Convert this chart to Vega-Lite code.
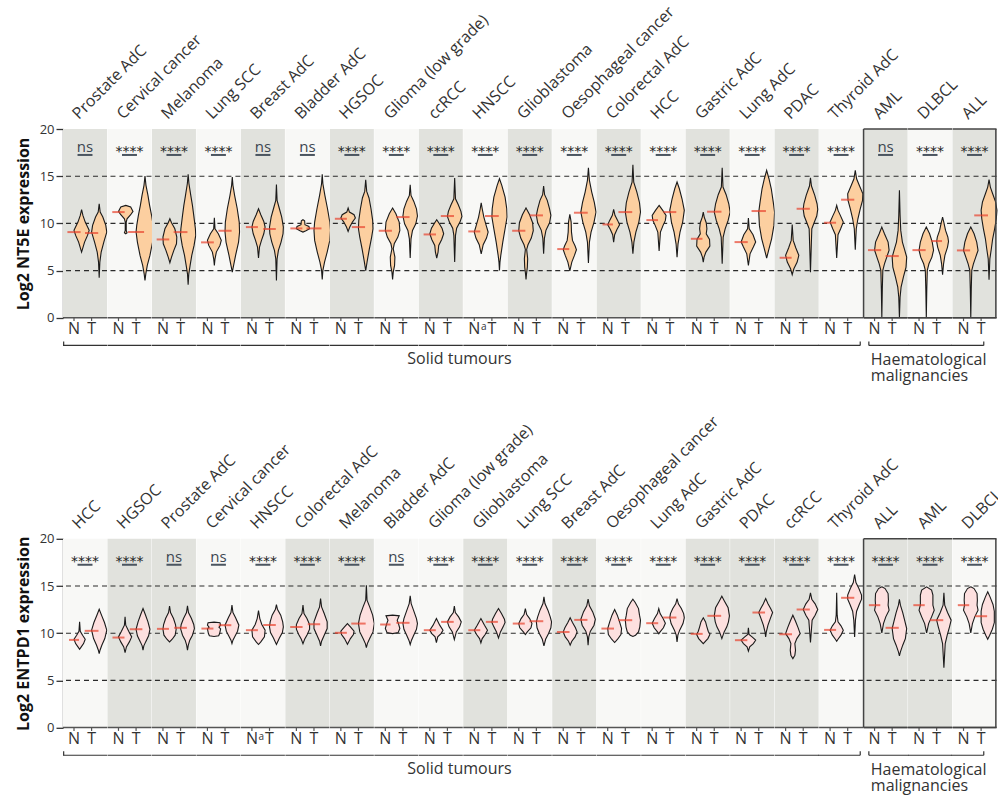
{
"$schema": "https://vega.github.io/schema/vega-lite/v6.json",
"background": "white",
"padding": {"left": 15, "top": 3, "right": 0, "bottom": 10},
"config": {"view": {"stroke": null}, "font": "Open Sans",
 "axisY": {"grid": false, "domainColor": "#333333", "domainWidth": 1.3, "tickColor": "#333333", "tickWidth": 1.3, "tickSize": 7, "labelFont": "Open Sans", "labelFontSize": 13, "labelColor": "#333333", "labelPadding": 2, "titleFont": "Open Sans", "titleFontSize": 16, "titleFontWeight": "bold", "titleColor": "#111111", "titlePadding": 8, "tickCount": 5}},
"spacing": 409.8,
"bounds": "flush",
"datasets": {
"nt5e": [
{"g":"Prostate AdC","s":"N","sig":"ns","m":9.08,"mw":0.66,"y":[11.45,10.85,10.14,9.26,8.73,8.02,6.96],"w":[0,0.12,0.33,0.69,0.54,0.27,0]},
{"g":"Prostate AdC","s":"T","m":8.98,"mw":0.66,"y":[12.08,11.2,10.67,9.79,9.08,8.02,6.96,5.9,4.24],"w":[0,0.09,0.33,0.6,0.69,0.42,0.18,0.06,0]},
{"g":"Cervical cancer","s":"N","sig":"****","m":11.2,"mw":0.62,"y":[11.91,11.73,11.27,10.92,10.49,10.14,9.26,9.01,8.9],"w":[0,0.45,0.66,0.45,0.12,0.045,0.045,0.12,0]},
{"g":"Cervical cancer","s":"T","m":9.08,"mw":0.8,"y":[15.02,14.03,12.97,11.91,10.85,9.79,9.08,8.02,6.61,5.55,4.66,3.96],"w":[0,0.09,0.27,0.42,0.6,0.75,0.81,0.69,0.45,0.21,0.075,0]},
{"g":"Melanoma","s":"N","sig":"****","m":8.3,"mw":0.63,"y":[10.49,10.07,9.43,8.55,7.84,7.14,6.43,5.83],"w":[0,0.15,0.45,0.63,0.6,0.36,0.15,0]},
{"g":"Melanoma","s":"T","m":9.08,"mw":0.69,"y":[15.19,14.2,12.97,11.91,10.85,9.43,8.73,7.67,6.61,5.55,4.66,3.5],"w":[0,0.075,0.24,0.39,0.51,0.66,0.69,0.54,0.33,0.18,0.06,0]},
{"g":"Lung SCC","s":"N","sig":"****","m":7.99,"mw":0.64,"y":[10.6,9.43,8.9,8.2,7.67,6.96,6.25,5.55],"w":[0,0.06,0.36,0.63,0.51,0.18,0.06,0]},
{"g":"Lung SCC","s":"T","m":9.22,"mw":0.66,"y":[14.91,14.03,12.97,11.55,10.14,9.08,8.02,6.61,5.55,4.84],"w":[0,0.06,0.21,0.45,0.63,0.66,0.57,0.3,0.12,0]},
{"g":"Breast AdC","s":"N","sig":"ns","m":9.61,"mw":0.6,"y":[11.55,10.92,10.21,9.61,8.9,8.2,7.49,6.33],"w":[0,0.21,0.48,0.6,0.48,0.27,0.09,0]},
{"g":"Breast AdC","s":"T","m":9.4,"mw":0.63,"y":[14.13,12.44,11.55,10.67,9.61,8.9,8.02,7.14,6.25,3.96],"w":[0,0.06,0.27,0.48,0.63,0.6,0.42,0.18,0.06,0]},
{"g":"Bladder AdC","s":"N","sig":"ns","m":9.47,"mw":0.6,"y":[10.39,10.28,9.86,9.68,9.43,9.22,9.08],"w":[0,0.15,0.18,0.54,0.6,0.27,0]},
{"g":"Bladder AdC","s":"T","m":9.47,"mw":0.75,"y":[15.19,14.2,12.97,11.55,10.14,9.26,8.2,6.96,5.9,5.02,4.06],"w":[0,0.06,0.24,0.48,0.69,0.75,0.69,0.45,0.21,0.06,0]},
{"g":"HGSOC","s":"N","sig":"****","m":10.49,"mw":0.6,"y":[11.63,11.2,10.92,10.57,10.14,9.61,9.15],"w":[0,0.12,0.54,0.66,0.39,0.15,0]},
{"g":"HGSOC","s":"T","m":9.61,"mw":0.66,"y":[14.63,13.39,12.69,11.55,10.32,9.43,8.55,7.31,5.9,4.98],"w":[0,0.09,0.3,0.48,0.63,0.66,0.54,0.33,0.12,0]},
{"g":"Glioma (low grade)","s":"N","sig":"****","m":9.22,"mw":0.66,"y":[11.63,11.02,10.14,9.26,8.55,7.84,7.31,6.43,5.55,4.84,4.06],"w":[0,0.3,0.6,0.66,0.48,0.15,0.06,0.21,0.18,0.06,0]},
{"g":"Glioma (low grade)","s":"T","m":10.67,"mw":0.66,"y":[14.1,12.97,12.33,11.55,10.78,9.96,9.26,8.37,6.33],"w":[0,0.075,0.33,0.57,0.66,0.51,0.21,0.075,0]},
{"g":"ccRCC","s":"N","sig":"****","m":8.83,"mw":0.62,"y":[10.39,10.07,9.5,8.9,8.3,7.67,6.96,6.33],"w":[0,0.18,0.48,0.63,0.45,0.18,0.12,0]},
{"g":"ccRCC","s":"T","m":10.78,"mw":0.66,"y":[14.81,12.61,11.98,11.27,10.74,10.14,9.5,8.73,5.9],"w":[0,0.075,0.33,0.57,0.66,0.48,0.18,0.075,0]},
{"g":"HNSCC","s":"N","sig":"****","m":9.15,"mw":0.6,"y":[12.19,11.55,10.67,9.79,9.08,8.45,7.74,6.78],"w":[0,0.09,0.24,0.45,0.63,0.48,0.18,0]},
{"g":"HNSCC","s":"T","m":10.78,"mw":0.69,"y":[14.73,14.03,12.79,11.55,10.67,9.43,8.02,6.61,5.9,5.02],"w":[0,0.21,0.51,0.66,0.69,0.51,0.3,0.12,0.045,0]},
{"g":"Glioblastoma","s":"N","sig":"****","m":9.22,"mw":0.66,"y":[11.63,10.92,10.07,9.22,8.45,7.74,7.24,6.25,5.37,4.66,4.06],"w":[0,0.33,0.6,0.66,0.48,0.18,0.06,0.15,0.12,0.045,0]},
{"g":"Glioblastoma","s":"T","m":10.85,"mw":0.66,"y":[13.96,13.04,12.44,11.55,10.85,10.07,9.26,8.45,6.78],"w":[0,0.09,0.33,0.54,0.66,0.54,0.21,0.075,0]},
{"g":"Oesophageal cancer","s":"N","sig":"****","m":7.28,"mw":0.6,"y":[10.95,10.14,9.08,8.2,7.6,7.21,6.61,5.9,4.98],"w":[0,0.12,0.15,0.24,0.48,0.6,0.42,0.18,0]},
{"g":"Oesophageal cancer","s":"T","m":11.13,"mw":0.69,"y":[15.9,14.56,13.32,12.19,11.2,10.14,9.08,8.02,5.8],"w":[0,0.09,0.3,0.54,0.69,0.51,0.24,0.09,0]},
{"g":"Colorectal AdC","s":"N","sig":"****","m":9.89,"mw":0.52,"y":[11.48,10.85,10.32,9.86,9.36,8.8,8.02],"w":[0,0.12,0.36,0.54,0.3,0.09,0]},
{"g":"Colorectal AdC","s":"T","m":11.2,"mw":0.69,"y":[16.22,14.38,13.32,12.19,11.2,10.14,9.08,8.02,6.78],"w":[0,0.075,0.36,0.6,0.69,0.54,0.27,0.09,0]},
{"g":"HCC","s":"N","sig":"****","m":10.35,"mw":0.58,"y":[11.91,11.38,10.85,10.32,9.79,9.08,7.07],"w":[0,0.33,0.63,0.57,0.36,0.12,0]},
{"g":"HCC","s":"T","m":11.2,"mw":0.65,"y":[14.38,13.67,12.61,11.38,10.14,9.08,7.84,6.43],"w":[0,0.21,0.45,0.66,0.51,0.27,0.09,0]},
{"g":"Gastric AdC","s":"N","sig":"****","m":8.37,"mw":0.58,"y":[11.2,10.67,10.07,9.43,8.9,8.3,7.6,6.96,6.43,5.9],"w":[0,0.09,0.27,0.33,0.27,0.57,0.6,0.24,0.075,0]},
{"g":"Gastric AdC","s":"T","m":11.24,"mw":0.72,"y":[15.9,13.85,13.04,12.08,11.2,10.32,9.43,8.55,5.72],"w":[0,0.075,0.36,0.6,0.72,0.54,0.27,0.09,0]},
{"g":"Lung AdC","s":"N","sig":"****","m":8.02,"mw":0.66,"y":[10.57,9.43,8.8,8.02,7.49,6.78,5.55],"w":[0,0.075,0.42,0.66,0.45,0.15,0]},
{"g":"Lung AdC","s":"T","m":11.31,"mw":0.72,"y":[15.62,14.73,13.67,12.26,11.2,9.79,8.37,7.31,6.33],"w":[0,0.21,0.42,0.6,0.72,0.66,0.45,0.21,0]},
{"g":"PDAC","s":"N","sig":"****","m":6.36,"mw":0.6,"y":[9.89,8.2,7.39,6.61,5.9,5.19,4.56],"w":[0,0.09,0.33,0.6,0.45,0.15,0]},
{"g":"PDAC","s":"T","m":11.55,"mw":0.66,"y":[14.84,13.96,12.97,12.08,11.48,10.78,10.07,9.43,4.84],"w":[0,0.09,0.39,0.6,0.66,0.57,0.33,0.12,0]},
{"g":"Thyroid AdC","s":"N","sig":"****","m":10.07,"mw":0.6,"y":[11.91,11.38,10.85,10.14,9.43,8.8,6.33],"w":[0,0.12,0.33,0.6,0.36,0.12,0]},
{"g":"Thyroid AdC","s":"T","m":12.51,"mw":0.66,"y":[15.62,14.73,13.96,13.14,12.44,11.55,10.49,9.43,7.21],"w":[0,0.12,0.39,0.69,0.66,0.45,0.24,0.09,0]},
{"g":"AML","s":"N","sig":"ns","m":7.17,"mw":0.66,"y":[9.61,8.9,8.02,7.17,6.43,5.72,5.02,3.07,0],"w":[0,0.24,0.57,0.66,0.45,0.24,0.09,0.045,0]},
{"g":"AML","s":"T","m":6.54,"mw":0.66,"y":[13.5,10.85,9.26,8.02,7.31,6.43,5.37,4.31,3.25,2.19,0],"w":[0,0.06,0.12,0.27,0.45,0.66,0.6,0.36,0.15,0.06,0]},
{"g":"DLBCL","s":"N","sig":"****","m":7.17,"mw":0.66,"y":[9.61,8.9,8.02,7.17,6.43,5.72,5.02,3.07,0],"w":[0,0.3,0.54,0.66,0.51,0.24,0.09,0.045,0]},
{"g":"DLBCL","s":"T","m":8.13,"mw":0.54,"y":[10.67,10.07,9.26,8.55,8.09,7.49,6.61,5.72,4.56],"w":[0,0.12,0.27,0.48,0.54,0.45,0.21,0.09,0]},
{"g":"ALL","s":"N","sig":"****","m":7.14,"mw":0.66,"y":[9.61,8.9,8.02,7.14,6.43,5.72,5.02,3.07,0],"w":[0,0.3,0.54,0.66,0.45,0.24,0.09,0.045,0]},
{"g":"ALL","s":"T","m":10.85,"mw":0.69,"y":[14.63,13.85,13.14,12.26,11.38,10.49,9.43,8.37,7.31,6.25,4.03],"w":[0,0.12,0.33,0.6,0.72,0.66,0.51,0.33,0.21,0.075,0]}
],
"entpd1": [
{"g":"HCC","s":"N","sig":"****","m":9.29,"mw":0.5,"y":[11.2,10.21,9.79,9.36,8.9,8.55,8.3],"w":[0,0.06,0.27,0.51,0.36,0.15,0]},
{"g":"HCC","s":"T","m":10.25,"mw":0.69,"y":[12.54,11.91,11.13,10.32,9.43,8.73,8.2,7.84],"w":[0,0.21,0.48,0.69,0.51,0.24,0.075,0]},
{"g":"HGSOC","s":"N","sig":"****","m":9.54,"mw":0.6,"y":[11.73,10.85,10.21,9.61,9.08,8.55,7.95],"w":[0,0.06,0.33,0.6,0.39,0.12,0]},
{"g":"HGSOC","s":"T","m":10.42,"mw":0.63,"y":[12.61,11.98,11.2,10.42,9.72,9.08,8.66,8.2],"w":[0,0.21,0.45,0.63,0.51,0.24,0.075,0]},
{"g":"Prostate AdC","s":"N","sig":"ns","m":10.46,"mw":0.6,"y":[12.86,12.19,11.55,10.92,10.42,9.79,9.36,9.08],"w":[0,0.09,0.36,0.54,0.6,0.51,0.24,0]},
{"g":"Prostate AdC","s":"T","m":10.57,"mw":0.63,"y":[12.9,12.19,11.55,10.92,10.49,9.79,9.26,8.73,8.2],"w":[0,0.09,0.36,0.57,0.63,0.45,0.21,0.075,0]},
{"g":"Cervical cancer","s":"N","sig":"ns","m":10.49,"mw":0.6,"y":[11.17,11.1,10.85,10.64,10.46,9.96,9.72,9.65],"w":[0,0.54,0.6,0.45,0.6,0.51,0.42,0]},
{"g":"Cervical cancer","s":"T","m":10.85,"mw":0.63,"y":[12.97,12.19,11.63,10.85,10.21,9.61,9.26,8.9],"w":[0,0.09,0.33,0.63,0.51,0.24,0.09,0]},
{"g":"HNSCC","s":"N","sig":"****","m":10.32,"mw":0.6,"y":[12.4,11.55,10.92,10.32,9.61,9.08,8.8],"w":[0,0.12,0.3,0.6,0.54,0.21,0]},
{"g":"HNSCC","s":"T","m":10.88,"mw":0.63,"y":[13.04,12.54,11.91,11.2,10.67,10.07,9.5,8.8],"w":[0,0.09,0.39,0.57,0.63,0.54,0.27,0]},
{"g":"Colorectal AdC","s":"N","sig":"****","m":10.67,"mw":0.62,"y":[12.97,12.08,11.55,10.92,10.42,9.86,9.36,8.9],"w":[0,0.09,0.36,0.6,0.6,0.39,0.15,0]},
{"g":"Colorectal AdC","s":"T","m":10.95,"mw":0.62,"y":[13.67,12.79,12.08,11.2,10.49,9.79,9.15,8.66],"w":[0,0.09,0.33,0.6,0.6,0.33,0.09,0]},
{"g":"Melanoma","s":"N","sig":"****","m":10.04,"mw":0.6,"y":[11.02,10.67,10.21,9.86,9.43,8.83],"w":[0,0.27,0.6,0.54,0.27,0]},
{"g":"Melanoma","s":"T","m":11.02,"mw":0.72,"y":[15.09,13.5,12.79,11.91,11.02,10.14,9.43,8.9,8.48],"w":[0,0.06,0.3,0.57,0.72,0.6,0.3,0.09,0]},
{"g":"Bladder AdC","s":"N","sig":"ns","m":10.92,"mw":0.52,"y":[11.91,11.84,11.38,10.99,10.49,10.07,9.96],"w":[0,0.6,0.42,0.54,0.66,0.51,0]},
{"g":"Bladder AdC","s":"T","m":11.1,"mw":0.66,"y":[13.96,13.14,12.44,11.55,11.02,10.42,9.72,9.26,8.8],"w":[0,0.09,0.3,0.57,0.66,0.57,0.3,0.12,0]},
{"g":"Glioma (low grade)","s":"N","sig":"****","m":10.32,"mw":0.6,"y":[11.55,10.85,10.32,9.96,9.61,9.01],"w":[0,0.3,0.6,0.42,0.12,0]},
{"g":"Glioma (low grade)","s":"T","m":11.2,"mw":0.63,"y":[12.86,12.19,11.73,11.2,10.67,10.14,9.33],"w":[0,0.09,0.39,0.63,0.48,0.18,0]},
{"g":"Glioblastoma","s":"N","sig":"****","m":10.32,"mw":0.6,"y":[11.55,10.85,10.32,9.86,9.43,8.98],"w":[0,0.33,0.6,0.39,0.12,0]},
{"g":"Glioblastoma","s":"T","m":11.2,"mw":0.6,"y":[12.61,12.08,11.48,11.13,10.67,10.14,9.5],"w":[0,0.27,0.54,0.6,0.42,0.18,0]},
{"g":"Lung SCC","s":"N","sig":"****","m":11.02,"mw":0.6,"y":[12.61,11.98,11.55,11.02,10.57,10.14,9.86],"w":[0,0.12,0.39,0.6,0.51,0.18,0]},
{"g":"Lung SCC","s":"T","m":11.27,"mw":0.69,"y":[13.85,13.14,12.44,11.73,11.2,10.57,9.96,9.36,8.66],"w":[0,0.09,0.36,0.57,0.69,0.63,0.42,0.15,0]},
{"g":"Breast AdC","s":"N","sig":"****","m":10.14,"mw":0.63,"y":[11.63,11.13,10.57,10.14,9.61,9.15,8.73],"w":[0,0.21,0.48,0.63,0.45,0.15,0]},
{"g":"Breast AdC","s":"T","m":11.41,"mw":0.66,"y":[13.6,12.9,12.26,11.48,10.85,10.21,9.61,8.73],"w":[0,0.12,0.42,0.66,0.54,0.21,0.06,0]},
{"g":"Oesophageal cancer","s":"N","sig":"****","m":10.49,"mw":0.63,"y":[12.51,11.91,11.2,10.49,9.86,9.36,9.01],"w":[0,0.24,0.45,0.63,0.57,0.27,0]},
{"g":"Oesophageal cancer","s":"T","m":11.38,"mw":0.69,"y":[13.6,13.25,12.61,11.91,11.38,10.67,10.14,9.79,9.65],"w":[0,0.21,0.51,0.6,0.69,0.63,0.51,0.24,0]},
{"g":"Lung AdC","s":"N","sig":"****","m":11.06,"mw":0.6,"y":[12.61,12.08,11.55,11.06,10.57,10.14,9.93],"w":[0,0.12,0.39,0.6,0.42,0.12,0]},
{"g":"Lung AdC","s":"T","m":11.66,"mw":0.66,"y":[13.67,13.11,12.61,12.08,11.63,11.02,10.32,9.79,9.08],"w":[0,0.12,0.39,0.6,0.66,0.54,0.24,0.075,0]},
{"g":"Gastric AdC","s":"N","sig":"****","m":9.93,"mw":0.6,"y":[11.63,11.2,10.67,10.21,9.86,9.43,8.9],"w":[0,0.21,0.33,0.45,0.6,0.42,0]},
{"g":"Gastric AdC","s":"T","m":11.84,"mw":0.69,"y":[13.92,13.39,12.69,11.84,11.2,10.67,10.14,9.43],"w":[0,0.24,0.57,0.69,0.6,0.45,0.21,0]},
{"g":"PDAC","s":"N","sig":"****","m":9.26,"mw":0.62,"y":[10.57,9.86,9.58,9.26,8.9,8.55,8.09],"w":[0,0.06,0.36,0.66,0.45,0.12,0]},
{"g":"PDAC","s":"T","m":12.19,"mw":0.63,"y":[13.67,13.11,12.61,12.19,11.55,10.85,10.14,9.61],"w":[0,0.21,0.45,0.63,0.42,0.21,0.06,0]},
{"g":"ccRCC","s":"N","sig":"****","m":9.89,"mw":0.64,"y":[11.91,11.27,10.57,9.96,9.43,8.9,8.2,7.67,7.31],"w":[0,0.24,0.48,0.66,0.36,0.18,0.24,0.18,0]},
{"g":"ccRCC","s":"T","m":12.51,"mw":0.66,"y":[14.28,13.6,13.11,12.51,11.91,11.38,9.01],"w":[0,0.12,0.42,0.66,0.42,0.15,0]},
{"g":"Thyroid AdC","s":"N","sig":"****","m":10.35,"mw":0.6,"y":[14.28,11.91,11.2,10.78,10.32,9.79,9.36,9.15],"w":[0,0.045,0.12,0.39,0.6,0.39,0.12,0]},
{"g":"Thyroid AdC","s":"T","m":13.75,"mw":0.66,"y":[16.22,15.37,14.73,14.03,13.6,13.04,12.33,11.38,9.61],"w":[0,0.12,0.39,0.63,0.63,0.42,0.18,0.075,0]},
{"g":"ALL","s":"N","sig":"****","m":12.97,"mw":0.57,"y":[14.91,14.73,14.2,13.5,12.97,12.44,11.73,11.02,10.04],"w":[0,0.3,0.57,0.6,0.57,0.66,0.36,0.15,0]},
{"g":"ALL","s":"T","m":10.57,"mw":0.66,"y":[13.6,12.97,12.19,11.2,10.49,9.43,8.73,8.02,7.6],"w":[0,0.09,0.3,0.51,0.66,0.54,0.3,0.09,0]},
{"g":"AML","s":"N","sig":"****","m":12.97,"mw":0.57,"y":[14.91,14.56,14.03,13.5,12.97,12.44,11.73,11.02,10.04],"w":[0,0.45,0.57,0.57,0.57,0.69,0.45,0.18,0]},
{"g":"AML","s":"T","m":11.38,"mw":0.66,"y":[14.28,12.97,12.19,11.38,10.67,9.79,8.9,6.33],"w":[0,0.075,0.33,0.66,0.51,0.3,0.12,0]},
{"g":"DLBCL","s":"N","sig":"****","m":12.97,"mw":0.57,"y":[14.91,14.73,14.2,13.5,12.97,12.44,11.73,11.02,10.04],"w":[0,0.3,0.57,0.6,0.57,0.66,0.36,0.15,0]},
{"g":"DLBCL","s":"T","m":11.8,"mw":0.6,"y":[14.38,13.85,13.04,12.33,11.73,11.13,10.42,9.79,9.36],"w":[0,0.21,0.48,0.6,0.6,0.6,0.42,0.18,0]}
]
},
"vconcat": [
{
"data": {"name": "nt5e"},
"facet": {"column": {"field": "g", "type": "nominal", "header": null, "sort": ["Prostate AdC","Cervical cancer","Melanoma","Lung SCC","Breast AdC","Bladder AdC","HGSOC","Glioma (low grade)","ccRCC","HNSCC","Glioblastoma","Oesophageal cancer","Colorectal AdC","HCC","Gastric AdC","Lung AdC","PDAC","Thyroid AdC","AML","DLBCL","ALL"]}},
"spacing": 0.476,
"bounds": "flush",
"spec": {
"width": 44,
"height": 188.8,
"resolve": {"scale": {"x": "independent"}},
"layer": [
{"transform": [{"filter": "datum.s == 'N'"}], "mark": {"type": "rect"}, "encoding": {
 "x": {"datum": -1, "type": "quantitative", "scale": {"domain": [-1, 1], "nice": false, "zero": false}, "axis": null}, "x2": {"datum": 1},
 "y": {"datum": 0, "type": "quantitative", "scale": {"domain": [0, 20], "nice": false, "zero": false}, "axis": {"values": [0,5,10,15,20], "title": "Log2 NT5E expression"}},
 "y2": {"datum": 20},
 "color": {"field": "g", "type": "nominal", "legend": null, "scale": {"domain": ["Prostate AdC","Cervical cancer","Melanoma","Lung SCC","Breast AdC","Bladder AdC","HGSOC","Glioma (low grade)","ccRCC","HNSCC","Glioblastoma","Oesophageal cancer","Colorectal AdC","HCC","Gastric AdC","Lung AdC","PDAC","Thyroid AdC","AML","DLBCL","ALL"], "range": ["#e1e2dd","#f8f8f6","#e1e2dd","#f8f8f6","#e1e2dd","#f8f8f6","#e1e2dd","#f8f8f6","#e1e2dd","#f8f8f6","#e1e2dd","#f8f8f6","#e1e2dd","#f8f8f6","#e1e2dd","#f8f8f6","#e1e2dd","#f8f8f6","#e1e2dd","#f8f8f6","#e1e2dd"]}}}},
{"transform": [{"filter": "datum.s == 'N'"}], "mark": {"type": "rule", "color": "#2b2b2b", "strokeWidth": 1.1, "strokeDash": [5, 4]}, "encoding": {"y": {"datum": 5, "type": "quantitative", "scale": {"domain": [0, 20], "nice": false, "zero": false}}}},
{"transform": [{"filter": "datum.s == 'N'"}], "mark": {"type": "rule", "color": "#2b2b2b", "strokeWidth": 1.1, "strokeDash": [5, 4]}, "encoding": {"y": {"datum": 10, "type": "quantitative", "scale": {"domain": [0, 20], "nice": false, "zero": false}}}},
{"transform": [{"filter": "datum.s == 'N'"}], "mark": {"type": "rule", "color": "#2b2b2b", "strokeWidth": 1.1, "strokeDash": [5, 4]}, "encoding": {"y": {"datum": 15, "type": "quantitative", "scale": {"domain": [0, 20], "nice": false, "zero": false}}}},
{"transform": [{"filter": "datum.s == 'N'"}], "mark": {"type": "rule", "color": "#555555", "strokeWidth": 1.5}, "encoding": {"y": {"datum": 0, "type": "quantitative", "scale": {"domain": [0, 20], "nice": false, "zero": false}}}},
{"transform": [{"filter": "datum.s == 'N'"}], "mark": {"type": "rule", "color": "#555555", "strokeWidth": 1.2}, "encoding": {"x": {"datum": 0, "type": "quantitative", "scale": {"domain": [-0.5, 1.5], "nice": false, "zero": false}, "axis": null}, "y": {"datum": 0, "type": "quantitative", "scale": {"domain": [0, 20], "nice": false, "zero": false}}, "y2": {"datum": -0.35}}},
{"transform": [{"filter": "datum.s == 'T'"}], "mark": {"type": "rule", "color": "#555555", "strokeWidth": 1.2}, "encoding": {"x": {"datum": 0, "type": "quantitative", "scale": {"domain": [-1.3, 0.7], "nice": false, "zero": false}, "axis": null}, "y": {"datum": 0, "type": "quantitative", "scale": {"domain": [0, 20], "nice": false, "zero": false}}, "y2": {"datum": -0.35}}},
{"transform": [{"filter": "datum.s == 'N'"}, {"flatten": ["y", "w"]}], "mark": {"type": "area", "orient": "horizontal", "fill": "#fccfa0", "stroke": "#1a1a1a", "strokeWidth": 1.1}, "encoding": {"x": {"field": "w", "type": "quantitative", "stack": "center", "impute": null, "scale": {"domain": [-0.5, 1.5], "nice": false, "zero": false}, "axis": null}, "y": {"field": "y", "type": "quantitative", "scale": {"domain": [0, 20], "nice": false, "zero": false}}}},
{"transform": [{"filter": "datum.s == 'T'"}, {"flatten": ["y", "w"]}], "mark": {"type": "area", "orient": "horizontal", "fill": "#fccfa0", "stroke": "#1a1a1a", "strokeWidth": 1.1}, "encoding": {"x": {"field": "w", "type": "quantitative", "stack": "center", "impute": null, "scale": {"domain": [-1.3, 0.7], "nice": false, "zero": false}, "axis": null}, "y": {"field": "y", "type": "quantitative", "scale": {"domain": [0, 20], "nice": false, "zero": false}}}},
{"transform": [{"filter": "datum.s == 'N'"}], "mark": {"type": "tick", "orient": "horizontal", "thickness": 2, "color": "#e8432d"}, "encoding": {"x": {"datum": 0, "type": "quantitative", "scale": {"domain": [-0.5, 1.5], "nice": false, "zero": false}, "axis": null}, "y": {"field": "m", "type": "quantitative", "scale": {"domain": [0, 20], "nice": false, "zero": false}}, "size": {"field": "mw", "type": "quantitative", "legend": null, "scale": {"domain": [0, 1], "range": [0, 20]}}}},
{"transform": [{"filter": "datum.s == 'T'"}], "mark": {"type": "tick", "orient": "horizontal", "thickness": 2, "color": "#e8432d"}, "encoding": {"x": {"datum": 0, "type": "quantitative", "scale": {"domain": [-1.3, 0.7], "nice": false, "zero": false}, "axis": null}, "y": {"field": "m", "type": "quantitative", "scale": {"domain": [0, 20], "nice": false, "zero": false}}, "size": {"field": "mw", "type": "quantitative", "legend": null, "scale": {"domain": [0, 1], "range": [0, 20]}}}},
{"transform": [{"filter": "datum.s == 'N' && datum.sig == 'ns'"}], "mark": {"type": "text", "font": "Open Sans", "fontSize": 15, "color": "#3c4650", "baseline": "alphabetic", "align": "center"}, "encoding": {"text": {"field": "sig"}, "y": {"datum": 17.54, "type": "quantitative", "scale": {"domain": [0, 20], "nice": false, "zero": false}}}},
{"transform": [{"filter": "datum.s == 'N' && datum.sig != 'ns'"}], "mark": {"type": "text", "font": "DejaVu Sans", "fontSize": 14, "color": "#222222", "baseline": "alphabetic", "align": "center"}, "encoding": {"text": {"field": "sig"}, "y": {"datum": 17.1, "type": "quantitative", "scale": {"domain": [0, 20], "nice": false, "zero": false}}}},
{"transform": [{"filter": "datum.s == 'N'"}], "mark": {"type": "rule", "color": "#4b5560", "strokeWidth": 2}, "encoding": {"x": {"datum": -0.34, "type": "quantitative", "scale": {"domain": [-1, 1], "nice": false, "zero": false}, "axis": null}, "x2": {"datum": 0.34}, "y": {"datum": 17.25, "type": "quantitative", "scale": {"domain": [0, 20], "nice": false, "zero": false}}}},
{"transform": [{"filter": "datum.s == 'N'"}], "mark": {"type": "text", "font": "Open Sans", "fontSize": 16, "color": "#333333", "angle": 315, "align": "left", "baseline": "alphabetic"}, "encoding": {"text": {"field": "g"}, "x": {"datum": -0.28, "type": "quantitative", "scale": {"domain": [-1, 1], "nice": false, "zero": false}, "axis": null}, "y": {"datum": 20.95, "type": "quantitative", "scale": {"domain": [0, 20], "nice": false, "zero": false}}}},
{"transform": [{"filter": "datum.s == 'N'"}], "mark": {"type": "text", "font": "Open Sans", "fontSize": 16, "color": "#333333", "align": "center", "baseline": "alphabetic"}, "encoding": {"text": {"value": "N"}, "x": {"datum": 0, "type": "quantitative", "scale": {"domain": [-0.5, 1.5], "nice": false, "zero": false}, "axis": null}, "y": {"datum": -1.72, "type": "quantitative", "scale": {"domain": [0, 20], "nice": false, "zero": false}}}},
{"transform": [{"filter": "datum.s == 'T'"}], "mark": {"type": "text", "font": "Open Sans", "fontSize": 16, "color": "#333333", "align": "center", "baseline": "alphabetic"}, "encoding": {"text": {"value": "T"}, "x": {"datum": 0, "type": "quantitative", "scale": {"domain": [-1.3, 0.7], "nice": false, "zero": false}, "axis": null}, "y": {"datum": -1.72, "type": "quantitative", "scale": {"domain": [0, 20], "nice": false, "zero": false}}}},
{"transform": [{"filter": "datum.s == 'N' && datum.g == 'HNSCC'"}], "mark": {"type": "text", "font": "Open Sans", "fontSize": 10, "color": "#333333", "align": "left", "baseline": "alphabetic"}, "encoding": {"text": {"value": "a"}, "x": {"datum": 0.3, "type": "quantitative", "scale": {"domain": [-0.5, 1.5], "nice": false, "zero": false}, "axis": null}, "y": {"datum": -1.3, "type": "quantitative", "scale": {"domain": [0, 20], "nice": false, "zero": false}}}},
{"transform": [{"filter": "datum.s == 'N'"}, {"filter": {"field": "g", "oneOf": ["AML", "DLBCL", "ALL"]}}], "mark": {"type": "rule", "color": "#444444", "strokeWidth": 1.5}, "encoding": {"y": {"datum": 20, "type": "quantitative", "scale": {"domain": [0, 20], "nice": false, "zero": false}}}},
{"transform": [{"filter": "datum.s == 'N'"}, {"filter": {"field": "g", "oneOf": ["AML", "DLBCL", "ALL"]}}], "mark": {"type": "rule", "color": "#444444", "strokeWidth": 1.5}, "encoding": {"y": {"datum": 0, "type": "quantitative", "scale": {"domain": [0, 20], "nice": false, "zero": false}}}},
{"transform": [{"filter": "datum.s == 'N' && datum.g == 'AML'"}], "mark": {"type": "rule", "color": "#444444", "strokeWidth": 1.5}, "encoding": {"x": {"datum": -1, "type": "quantitative", "scale": {"domain": [-1, 1], "nice": false, "zero": false}, "axis": null}, "y": {"datum": 0, "type": "quantitative", "scale": {"domain": [0, 20], "nice": false, "zero": false}}, "y2": {"datum": 20}}},
{"transform": [{"filter": "datum.s == 'N' && datum.g == 'ALL'"}], "mark": {"type": "rule", "color": "#444444", "strokeWidth": 1.5}, "encoding": {"x": {"datum": 0.97, "type": "quantitative", "scale": {"domain": [-1, 1], "nice": false, "zero": false}, "axis": null}, "y": {"datum": 0, "type": "quantitative", "scale": {"domain": [0, 20], "nice": false, "zero": false}}, "y2": {"datum": 20}}},
{"transform": [{"filter": "datum.s == 'N'"}, {"filter": {"not": {"field": "g", "oneOf": ["Thyroid AdC", "AML", "ALL"]}}}], "mark": {"type": "rule", "color": "#333333", "strokeWidth": 1.2}, "encoding": {"y": {"datum": -2.93, "type": "quantitative", "scale": {"domain": [0, 20], "nice": false, "zero": false}}}},
{"transform": [{"filter": "datum.s == 'N' && datum.g == 'Thyroid AdC'"}], "mark": {"type": "rule", "color": "#333333", "strokeWidth": 1.2}, "encoding": {"x": {"datum": -1.05, "type": "quantitative", "scale": {"domain": [-1, 1], "nice": false, "zero": false}, "axis": null}, "x2": {"datum": 0.87}, "y": {"datum": -2.93, "type": "quantitative", "scale": {"domain": [0, 20], "nice": false, "zero": false}}}},
{"transform": [{"filter": "datum.s == 'N' && datum.g == 'AML'"}], "mark": {"type": "rule", "color": "#333333", "strokeWidth": 1.2}, "encoding": {"x": {"datum": -0.76, "type": "quantitative", "scale": {"domain": [-1, 1], "nice": false, "zero": false}, "axis": null}, "x2": {"datum": 1.05}, "y": {"datum": -2.93, "type": "quantitative", "scale": {"domain": [0, 20], "nice": false, "zero": false}}}},
{"transform": [{"filter": "datum.s == 'N' && datum.g == 'ALL'"}], "mark": {"type": "rule", "color": "#333333", "strokeWidth": 1.2}, "encoding": {"x": {"datum": -1.05, "type": "quantitative", "scale": {"domain": [-1, 1], "nice": false, "zero": false}, "axis": null}, "x2": {"datum": 0.42}, "y": {"datum": -2.93, "type": "quantitative", "scale": {"domain": [0, 20], "nice": false, "zero": false}}}},
{"transform": [{"filter": "datum.s == 'N' && datum.g == 'Prostate AdC'"}], "mark": {"type": "rule", "color": "#333333", "strokeWidth": 1.2}, "encoding": {"x": {"datum": -0.97, "type": "quantitative", "scale": {"domain": [-1, 1], "nice": false, "zero": false}, "axis": null}, "y": {"datum": -2.93, "type": "quantitative", "scale": {"domain": [0, 20], "nice": false, "zero": false}}, "y2": {"datum": -2.5}}},
{"transform": [{"filter": "datum.s == 'N' && datum.g == 'Thyroid AdC'"}], "mark": {"type": "rule", "color": "#333333", "strokeWidth": 1.2}, "encoding": {"x": {"datum": 0.87, "type": "quantitative", "scale": {"domain": [-1, 1], "nice": false, "zero": false}, "axis": null}, "y": {"datum": -2.93, "type": "quantitative", "scale": {"domain": [0, 20], "nice": false, "zero": false}}, "y2": {"datum": -2.5}}},
{"transform": [{"filter": "datum.s == 'N' && datum.g == 'AML'"}], "mark": {"type": "rule", "color": "#333333", "strokeWidth": 1.2}, "encoding": {"x": {"datum": -0.76, "type": "quantitative", "scale": {"domain": [-1, 1], "nice": false, "zero": false}, "axis": null}, "y": {"datum": -2.93, "type": "quantitative", "scale": {"domain": [0, 20], "nice": false, "zero": false}}, "y2": {"datum": -2.5}}},
{"transform": [{"filter": "datum.s == 'N' && datum.g == 'ALL'"}], "mark": {"type": "rule", "color": "#333333", "strokeWidth": 1.2}, "encoding": {"x": {"datum": 0.42, "type": "quantitative", "scale": {"domain": [-1, 1], "nice": false, "zero": false}, "axis": null}, "y": {"datum": -2.93, "type": "quantitative", "scale": {"domain": [0, 20], "nice": false, "zero": false}}, "y2": {"datum": -2.5}}},
{"transform": [{"filter": "datum.s == 'N' && datum.g == 'ccRCC'"}], "mark": {"type": "text", "font": "Open Sans", "fontSize": 16, "color": "#333333", "align": "center", "baseline": "alphabetic"}, "encoding": {"text": {"value": "Solid tumours"}, "x": {"datum": 0.85, "type": "quantitative", "scale": {"domain": [-1, 1], "nice": false, "zero": false}, "axis": null}, "y": {"datum": -4.89, "type": "quantitative", "scale": {"domain": [0, 20], "nice": false, "zero": false}}}},
{"transform": [{"filter": "datum.s == 'N' && datum.g == 'AML'"}], "mark": {"type": "text", "font": "Open Sans", "fontSize": 16, "color": "#333333", "align": "left", "baseline": "alphabetic", "lineBreak": "\n", "lineHeight": 16}, "encoding": {"text": {"value": "Haematological\nmalignancies"}, "x": {"datum": -0.67, "type": "quantitative", "scale": {"domain": [-1, 1], "nice": false, "zero": false}, "axis": null}, "y": {"datum": -4.98, "type": "quantitative", "scale": {"domain": [0, 20], "nice": false, "zero": false}}}}
]
}
},
{
"data": {"name": "entpd1"},
"facet": {"column": {"field": "g", "type": "nominal", "header": null, "sort": ["HCC","HGSOC","Prostate AdC","Cervical cancer","HNSCC","Colorectal AdC","Melanoma","Bladder AdC","Glioma (low grade)","Glioblastoma","Lung SCC","Breast AdC","Oesophageal cancer","Lung AdC","Gastric AdC","PDAC","ccRCC","Thyroid AdC","ALL","AML","DLBCL"]}},
"spacing": 0.476,
"bounds": "flush",
"spec": {
"width": 44,
"height": 188.8,
"resolve": {"scale": {"x": "independent"}},
"layer": [
{"transform": [{"filter": "datum.s == 'N'"}], "mark": {"type": "rect"}, "encoding": {
 "x": {"datum": -1, "type": "quantitative", "scale": {"domain": [-1, 1], "nice": false, "zero": false}, "axis": null}, "x2": {"datum": 1},
 "y": {"datum": 0, "type": "quantitative", "scale": {"domain": [0, 20], "nice": false, "zero": false}, "axis": {"values": [0,5,10,15,20], "title": "Log2 ENTPD1 expression"}},
 "y2": {"datum": 20},
 "color": {"field": "g", "type": "nominal", "legend": null, "scale": {"domain": ["HCC","HGSOC","Prostate AdC","Cervical cancer","HNSCC","Colorectal AdC","Melanoma","Bladder AdC","Glioma (low grade)","Glioblastoma","Lung SCC","Breast AdC","Oesophageal cancer","Lung AdC","Gastric AdC","PDAC","ccRCC","Thyroid AdC","ALL","AML","DLBCL"], "range": ["#e1e2dd","#f8f8f6","#e1e2dd","#f8f8f6","#e1e2dd","#f8f8f6","#e1e2dd","#f8f8f6","#e1e2dd","#f8f8f6","#e1e2dd","#f8f8f6","#e1e2dd","#f8f8f6","#e1e2dd","#f8f8f6","#e1e2dd","#f8f8f6","#e1e2dd","#f8f8f6","#e1e2dd"]}}}},
{"transform": [{"filter": "datum.s == 'N'"}], "mark": {"type": "rule", "color": "#2b2b2b", "strokeWidth": 1.1, "strokeDash": [5, 4]}, "encoding": {"y": {"datum": 5, "type": "quantitative", "scale": {"domain": [0, 20], "nice": false, "zero": false}}}},
{"transform": [{"filter": "datum.s == 'N'"}], "mark": {"type": "rule", "color": "#2b2b2b", "strokeWidth": 1.1, "strokeDash": [5, 4]}, "encoding": {"y": {"datum": 10, "type": "quantitative", "scale": {"domain": [0, 20], "nice": false, "zero": false}}}},
{"transform": [{"filter": "datum.s == 'N'"}], "mark": {"type": "rule", "color": "#2b2b2b", "strokeWidth": 1.1, "strokeDash": [5, 4]}, "encoding": {"y": {"datum": 15, "type": "quantitative", "scale": {"domain": [0, 20], "nice": false, "zero": false}}}},
{"transform": [{"filter": "datum.s == 'N'"}], "mark": {"type": "rule", "color": "#555555", "strokeWidth": 1.5}, "encoding": {"y": {"datum": 0, "type": "quantitative", "scale": {"domain": [0, 20], "nice": false, "zero": false}}}},
{"transform": [{"filter": "datum.s == 'N'"}], "mark": {"type": "rule", "color": "#555555", "strokeWidth": 1.2}, "encoding": {"x": {"datum": 0, "type": "quantitative", "scale": {"domain": [-0.5, 1.5], "nice": false, "zero": false}, "axis": null}, "y": {"datum": 0, "type": "quantitative", "scale": {"domain": [0, 20], "nice": false, "zero": false}}, "y2": {"datum": -0.35}}},
{"transform": [{"filter": "datum.s == 'T'"}], "mark": {"type": "rule", "color": "#555555", "strokeWidth": 1.2}, "encoding": {"x": {"datum": 0, "type": "quantitative", "scale": {"domain": [-1.3, 0.7], "nice": false, "zero": false}, "axis": null}, "y": {"datum": 0, "type": "quantitative", "scale": {"domain": [0, 20], "nice": false, "zero": false}}, "y2": {"datum": -0.35}}},
{"transform": [{"filter": "datum.s == 'N'"}, {"flatten": ["y", "w"]}], "mark": {"type": "area", "orient": "horizontal", "fill": "#fde0df", "stroke": "#1a1a1a", "strokeWidth": 1.1}, "encoding": {"x": {"field": "w", "type": "quantitative", "stack": "center", "impute": null, "scale": {"domain": [-0.5, 1.5], "nice": false, "zero": false}, "axis": null}, "y": {"field": "y", "type": "quantitative", "scale": {"domain": [0, 20], "nice": false, "zero": false}}}},
{"transform": [{"filter": "datum.s == 'T'"}, {"flatten": ["y", "w"]}], "mark": {"type": "area", "orient": "horizontal", "fill": "#fde0df", "stroke": "#1a1a1a", "strokeWidth": 1.1}, "encoding": {"x": {"field": "w", "type": "quantitative", "stack": "center", "impute": null, "scale": {"domain": [-1.3, 0.7], "nice": false, "zero": false}, "axis": null}, "y": {"field": "y", "type": "quantitative", "scale": {"domain": [0, 20], "nice": false, "zero": false}}}},
{"transform": [{"filter": "datum.s == 'N'"}], "mark": {"type": "tick", "orient": "horizontal", "thickness": 2, "color": "#e8432d"}, "encoding": {"x": {"datum": 0, "type": "quantitative", "scale": {"domain": [-0.5, 1.5], "nice": false, "zero": false}, "axis": null}, "y": {"field": "m", "type": "quantitative", "scale": {"domain": [0, 20], "nice": false, "zero": false}}, "size": {"field": "mw", "type": "quantitative", "legend": null, "scale": {"domain": [0, 1], "range": [0, 20]}}}},
{"transform": [{"filter": "datum.s == 'T'"}], "mark": {"type": "tick", "orient": "horizontal", "thickness": 2, "color": "#e8432d"}, "encoding": {"x": {"datum": 0, "type": "quantitative", "scale": {"domain": [-1.3, 0.7], "nice": false, "zero": false}, "axis": null}, "y": {"field": "m", "type": "quantitative", "scale": {"domain": [0, 20], "nice": false, "zero": false}}, "size": {"field": "mw", "type": "quantitative", "legend": null, "scale": {"domain": [0, 1], "range": [0, 20]}}}},
{"transform": [{"filter": "datum.s == 'N' && datum.sig == 'ns'"}], "mark": {"type": "text", "font": "Open Sans", "fontSize": 15, "color": "#3c4650", "baseline": "alphabetic", "align": "center"}, "encoding": {"text": {"field": "sig"}, "y": {"datum": 17.54, "type": "quantitative", "scale": {"domain": [0, 20], "nice": false, "zero": false}}}},
{"transform": [{"filter": "datum.s == 'N' && datum.sig != 'ns'"}], "mark": {"type": "text", "font": "DejaVu Sans", "fontSize": 14, "color": "#222222", "baseline": "alphabetic", "align": "center"}, "encoding": {"text": {"field": "sig"}, "y": {"datum": 17.1, "type": "quantitative", "scale": {"domain": [0, 20], "nice": false, "zero": false}}}},
{"transform": [{"filter": "datum.s == 'N'"}], "mark": {"type": "rule", "color": "#4b5560", "strokeWidth": 2}, "encoding": {"x": {"datum": -0.34, "type": "quantitative", "scale": {"domain": [-1, 1], "nice": false, "zero": false}, "axis": null}, "x2": {"datum": 0.34}, "y": {"datum": 17.25, "type": "quantitative", "scale": {"domain": [0, 20], "nice": false, "zero": false}}}},
{"transform": [{"filter": "datum.s == 'N'"}], "mark": {"type": "text", "font": "Open Sans", "fontSize": 16, "color": "#333333", "angle": 315, "align": "left", "baseline": "alphabetic"}, "encoding": {"text": {"field": "g"}, "x": {"datum": -0.28, "type": "quantitative", "scale": {"domain": [-1, 1], "nice": false, "zero": false}, "axis": null}, "y": {"datum": 20.95, "type": "quantitative", "scale": {"domain": [0, 20], "nice": false, "zero": false}}}},
{"transform": [{"filter": "datum.s == 'N'"}], "mark": {"type": "text", "font": "Open Sans", "fontSize": 16, "color": "#333333", "align": "center", "baseline": "alphabetic"}, "encoding": {"text": {"value": "N"}, "x": {"datum": 0, "type": "quantitative", "scale": {"domain": [-0.5, 1.5], "nice": false, "zero": false}, "axis": null}, "y": {"datum": -1.72, "type": "quantitative", "scale": {"domain": [0, 20], "nice": false, "zero": false}}}},
{"transform": [{"filter": "datum.s == 'T'"}], "mark": {"type": "text", "font": "Open Sans", "fontSize": 16, "color": "#333333", "align": "center", "baseline": "alphabetic"}, "encoding": {"text": {"value": "T"}, "x": {"datum": 0, "type": "quantitative", "scale": {"domain": [-1.3, 0.7], "nice": false, "zero": false}, "axis": null}, "y": {"datum": -1.72, "type": "quantitative", "scale": {"domain": [0, 20], "nice": false, "zero": false}}}},
{"transform": [{"filter": "datum.s == 'N' && datum.g == 'HNSCC'"}], "mark": {"type": "text", "font": "Open Sans", "fontSize": 10, "color": "#333333", "align": "left", "baseline": "alphabetic"}, "encoding": {"text": {"value": "a"}, "x": {"datum": 0.3, "type": "quantitative", "scale": {"domain": [-0.5, 1.5], "nice": false, "zero": false}, "axis": null}, "y": {"datum": -1.3, "type": "quantitative", "scale": {"domain": [0, 20], "nice": false, "zero": false}}}},
{"transform": [{"filter": "datum.s == 'N'"}, {"filter": {"field": "g", "oneOf": ["ALL", "AML", "DLBCL"]}}], "mark": {"type": "rule", "color": "#444444", "strokeWidth": 1.5}, "encoding": {"y": {"datum": 20, "type": "quantitative", "scale": {"domain": [0, 20], "nice": false, "zero": false}}}},
{"transform": [{"filter": "datum.s == 'N'"}, {"filter": {"field": "g", "oneOf": ["ALL", "AML", "DLBCL"]}}], "mark": {"type": "rule", "color": "#444444", "strokeWidth": 1.5}, "encoding": {"y": {"datum": 0, "type": "quantitative", "scale": {"domain": [0, 20], "nice": false, "zero": false}}}},
{"transform": [{"filter": "datum.s == 'N' && datum.g == 'ALL'"}], "mark": {"type": "rule", "color": "#444444", "strokeWidth": 1.5}, "encoding": {"x": {"datum": -1, "type": "quantitative", "scale": {"domain": [-1, 1], "nice": false, "zero": false}, "axis": null}, "y": {"datum": 0, "type": "quantitative", "scale": {"domain": [0, 20], "nice": false, "zero": false}}, "y2": {"datum": 20}}},
{"transform": [{"filter": "datum.s == 'N' && datum.g == 'DLBCL'"}], "mark": {"type": "rule", "color": "#444444", "strokeWidth": 1.5}, "encoding": {"x": {"datum": 0.97, "type": "quantitative", "scale": {"domain": [-1, 1], "nice": false, "zero": false}, "axis": null}, "y": {"datum": 0, "type": "quantitative", "scale": {"domain": [0, 20], "nice": false, "zero": false}}, "y2": {"datum": 20}}},
{"transform": [{"filter": "datum.s == 'N'"}, {"filter": {"not": {"field": "g", "oneOf": ["Thyroid AdC", "ALL", "DLBCL"]}}}], "mark": {"type": "rule", "color": "#333333", "strokeWidth": 1.2}, "encoding": {"y": {"datum": -2.93, "type": "quantitative", "scale": {"domain": [0, 20], "nice": false, "zero": false}}}},
{"transform": [{"filter": "datum.s == 'N' && datum.g == 'Thyroid AdC'"}], "mark": {"type": "rule", "color": "#333333", "strokeWidth": 1.2}, "encoding": {"x": {"datum": -1.05, "type": "quantitative", "scale": {"domain": [-1, 1], "nice": false, "zero": false}, "axis": null}, "x2": {"datum": 0.87}, "y": {"datum": -2.93, "type": "quantitative", "scale": {"domain": [0, 20], "nice": false, "zero": false}}}},
{"transform": [{"filter": "datum.s == 'N' && datum.g == 'ALL'"}], "mark": {"type": "rule", "color": "#333333", "strokeWidth": 1.2}, "encoding": {"x": {"datum": -0.76, "type": "quantitative", "scale": {"domain": [-1, 1], "nice": false, "zero": false}, "axis": null}, "x2": {"datum": 1.05}, "y": {"datum": -2.93, "type": "quantitative", "scale": {"domain": [0, 20], "nice": false, "zero": false}}}},
{"transform": [{"filter": "datum.s == 'N' && datum.g == 'DLBCL'"}], "mark": {"type": "rule", "color": "#333333", "strokeWidth": 1.2}, "encoding": {"x": {"datum": -1.05, "type": "quantitative", "scale": {"domain": [-1, 1], "nice": false, "zero": false}, "axis": null}, "x2": {"datum": 0.42}, "y": {"datum": -2.93, "type": "quantitative", "scale": {"domain": [0, 20], "nice": false, "zero": false}}}},
{"transform": [{"filter": "datum.s == 'N' && datum.g == 'HCC'"}], "mark": {"type": "rule", "color": "#333333", "strokeWidth": 1.2}, "encoding": {"x": {"datum": -0.97, "type": "quantitative", "scale": {"domain": [-1, 1], "nice": false, "zero": false}, "axis": null}, "y": {"datum": -2.93, "type": "quantitative", "scale": {"domain": [0, 20], "nice": false, "zero": false}}, "y2": {"datum": -2.5}}},
{"transform": [{"filter": "datum.s == 'N' && datum.g == 'Thyroid AdC'"}], "mark": {"type": "rule", "color": "#333333", "strokeWidth": 1.2}, "encoding": {"x": {"datum": 0.87, "type": "quantitative", "scale": {"domain": [-1, 1], "nice": false, "zero": false}, "axis": null}, "y": {"datum": -2.93, "type": "quantitative", "scale": {"domain": [0, 20], "nice": false, "zero": false}}, "y2": {"datum": -2.5}}},
{"transform": [{"filter": "datum.s == 'N' && datum.g == 'ALL'"}], "mark": {"type": "rule", "color": "#333333", "strokeWidth": 1.2}, "encoding": {"x": {"datum": -0.76, "type": "quantitative", "scale": {"domain": [-1, 1], "nice": false, "zero": false}, "axis": null}, "y": {"datum": -2.93, "type": "quantitative", "scale": {"domain": [0, 20], "nice": false, "zero": false}}, "y2": {"datum": -2.5}}},
{"transform": [{"filter": "datum.s == 'N' && datum.g == 'DLBCL'"}], "mark": {"type": "rule", "color": "#333333", "strokeWidth": 1.2}, "encoding": {"x": {"datum": 0.42, "type": "quantitative", "scale": {"domain": [-1, 1], "nice": false, "zero": false}, "axis": null}, "y": {"datum": -2.93, "type": "quantitative", "scale": {"domain": [0, 20], "nice": false, "zero": false}}, "y2": {"datum": -2.5}}},
{"transform": [{"filter": "datum.s == 'N' && datum.g == 'Glioma (low grade)'"}], "mark": {"type": "text", "font": "Open Sans", "fontSize": 16, "color": "#333333", "align": "center", "baseline": "alphabetic"}, "encoding": {"text": {"value": "Solid tumours"}, "x": {"datum": 0.85, "type": "quantitative", "scale": {"domain": [-1, 1], "nice": false, "zero": false}, "axis": null}, "y": {"datum": -4.89, "type": "quantitative", "scale": {"domain": [0, 20], "nice": false, "zero": false}}}},
{"transform": [{"filter": "datum.s == 'N' && datum.g == 'ALL'"}], "mark": {"type": "text", "font": "Open Sans", "fontSize": 16, "color": "#333333", "align": "left", "baseline": "alphabetic", "lineBreak": "\n", "lineHeight": 16}, "encoding": {"text": {"value": "Haematological\nmalignancies"}, "x": {"datum": -0.67, "type": "quantitative", "scale": {"domain": [-1, 1], "nice": false, "zero": false}, "axis": null}, "y": {"datum": -4.98, "type": "quantitative", "scale": {"domain": [0, 20], "nice": false, "zero": false}}}}
]
}
}
]
}
